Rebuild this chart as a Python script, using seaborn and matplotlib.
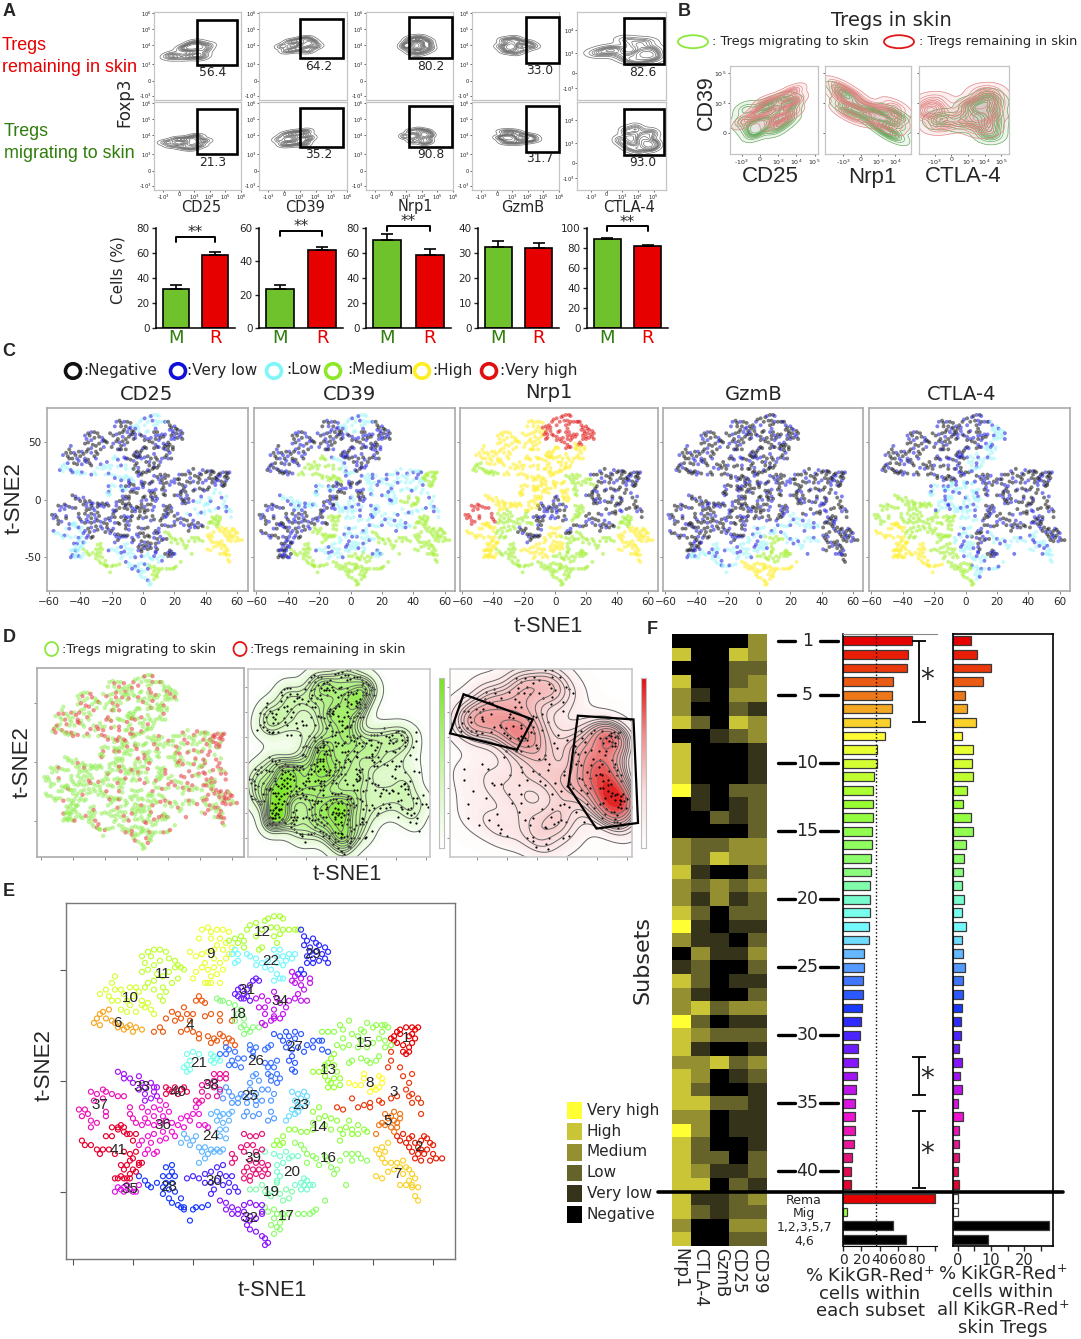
import numpy as np
import pandas as pd
import matplotlib
matplotlib.use("Agg")
import matplotlib.pyplot as plt
from matplotlib.colors import LinearSegmentedColormap, ListedColormap
from matplotlib.patches import Ellipse, Polygon, Rectangle
import seaborn as sns

# ------------------------------------------------------
# t-SNE subsets
# ------------------------------------------------------
c01 = [(47,20),(48,22),(49,23),(51,24),(53,24),(54,23),(55,24),(46,19),(47,18),(48,17),(50,16),(52,15),(53,17),(54,19),(52,20),(50,13),(51,12),(52,13),(49,21),(53,21)]
c02 = [(48,-25),(49,-27),(50,-24),(51,-28),(52,-26),(53,-25),(54,-28),(55,-30),(56,-27),(57,-25),(58,-26),(59,-28),(60,-29),(61,-35),(63,-35),(59,-36),(56,-36),(57,-33),(55,-33),(54,-35),(53,-32),(56,-31),(52,-30),(58,-31),(60,-33)]
c03 = [(46,13),(46,9),(45,6),(49,6),(50,2),(52,-1),(53,3),(51,-4),(53,-6),(55,-8),(56,-10),(56,-15),(53,-10),(52,-7),(33,-8),(35,-12),(37,-11),(39,-10),(42,-9),(46,-8),(48,-7),(43,-10),(39,-12),(28,-12),(30,-13)]
c04 = [(-33,22),(-31,24),(-30,22),(-29,28),(-27,31),(-25,30),(-26,27),(-24,28),(-23,33),(-18,38),(-17,36),(-19,36),(-16,35),(-22,30),(-21,27),(-20,30),(-22,23),(-24,22),(-20,22),(-18,21),(-18,19),(-15,20),(-13,19),(-12,18),(-14,17),(-11,21),(-10,20),(-8,19),(-9,17),(-7,18),(-6,16),(-16,29),(-14,30),(-11,30),(-11,27),(-7,27)]
c05 = [(43,-19),(44,-20),(45,-17),(44,-15),(46,-16),(47,-18),(48,-21),(47,-23),(46,-21),(49,-17),(49,-15),(47,-14),(48,-19),(42,-20),(41,-24)]
c06 = [(-53,26),(-52,28),(-51,30),(-50,31),(-48,32),(-47,27),(-49,28),(-51,25),(-46,26),(-44,25),(-42,24),(-41,25),(-39,24),(-37,23),(-43,23),(-40,22),(-45,24)]
c07 = [(41,-31),(42,-33),(43,-30),(44,-32),(43,-35),(45,-28),(41,-43),(43,-44),(44,-37),(46,-37),(48,-37),(49,-39),(47,-40),(45,-41),(50,-36),(51,-39),(52,-40),(53,-42),(54,-44),(52,-45),(50,-42),(51,-47),(53,-48),(55,-48),(49,-47),(54,-52),(55,-54),(53,-47)]
c08 = [(32,-1),(34,-2),(36,-2),(37,1),(37,3),(39,-5),(41,-4),(42,-3),(43,-1),(43,1),(42,2),(40,-3)]
c09 = [(-17,68),(-15,69),(-14,67),(-12,68),(-10,68),(-8,67),(-18,64),(-14,64),(-11,64),(-9,62),(-7,60),(-12,61),(-10,59),(-13,59),(-15,58),(-17,57),(-19,56),(-21,58),(-13,55),(-16,53),(-17,51),(-15,50),(-13,51),(-11,53),(-12,48),(-14,47),(-16,44),(-15,44),(-14,44),(-11,44),(-19,49),(-20,46),(-9,55),(-8,57),(-10,50)]
c10 = [(-46,47),(-47,44),(-49,41),(-51,39),(-48,38),(-46,41),(-44,41),(-43,39),(-41,42),(-39,42),(-38,40),(-40,38),(-42,36),(-45,36),(-47,36),(-41,34),(-44,32),(-42,31),(-39,31),(-37,34),(-35,35),(-36,33),(-34,32),(-33,30),(-37,36)]
c11 = [(-37,56),(-35,58),(-34,56),(-33,59),(-31,59),(-29,58),(-36,53),(-37,49),(-35,50),(-33,52),(-31,54),(-28,55),(-26,54),(-25,52),(-24,51),(-26,51),(-28,49),(-30,47),(-33,45),(-35,44),(-36,42),(-33,41),(-30,42),(-31,38),(-30,36),(-29,40),(-27,44),(-25,46),(-23,50),(-32,48)]
c12 = [(-8,63),(-6,64),(-4,65),(-3,63),(-5,62),(-3,60),(-2,68),(-1,70),(1,71),(1,65),(3,68),(4,72),(5,73),(7,74),(9,74),(10,73),(6,69),(8,69),(10,68),(12,68),(14,68),(15,68),(7,65),(9,66),(8,62),(3,60),(2,59)]
c13 = [(20,4),(22,4),(24,5),(25,8),(26,10),(27,12),(27,7),(24,2),(25,0),(27,1),(29,1),(28,4),(26,-1),(25,-3),(27,-3),(29,-2),(24,7)]
c14 = [(8,-27),(7,-29),(9,-29),(10,-25),(12,-22),(14,-22),(16,-23),(18,-23),(20,-22),(20,-19),(20,-14),(22,-12),(22,-17),(24,-16),(26,-17),(24,-20),(28,-18),(26,-22),(29,-22),(30,-24),(29,-27),(32,-18),(31,-21),(33,-22),(35,-20),(37,-22),(38,-23),(33,-24),(35,-24),(10,-28)]
c15 = [(23,22),(25,22),(27,22),(29,25),(30,23),(32,27),(30,19),(28,16),(30,15),(32,16),(33,21),(35,20),(36,23),(36,18),(35,15),(38,26),(40,24),(41,25),(43,25),(44,25),(45,24),(38,15),(36,10),(38,9),(39,8),(41,9),(42,11),(40,17),(42,19),(44,18),(46,16),(44,15),(43,22),(33,9),(32,8),(37,22)]
c16 = [(14,-28),(16,-29),(17,-31),(18,-33),(20,-34),(18,-37),(21,-35),(24,-34),(22,-38),(26,-39),(28,-40),(27,-42),(31,-47),(29,-36),(31,-33),(33,-33),(35,-33),(33,-36),(36,-35),(38,-36),(25,-36)]
c17 = [(4,-57),(5,-59),(7,-58),(8,-60),(10,-60),(7,-62),(6,-65),(8,-66),(9,-67),(7,-69),(10,-62),(12,-60),(15,-60),(17,-60),(19,-60),(20,-59),(21,-58),(24,-54),(9,-64)]
c18 = [(-12,37),(-10,36),(-8,35),(-6,34),(-4,32),(-5,30),(-3,28),(-6,27),(-3,25),(-2,23),(0,24),(-1,22),(-3,21),(-4,24),(2,24),(-11,36)]
c19 = [(-1,-49),(1,-49),(3,-47),(5,-51),(7,-49),(9,-51),(11,-49),(13,-50),(12,-53),(10,-54),(6,-52),(4,-50),(8,-46)]
c20 = [(4,-32),(7,-33),(9,-34),(10,-37),(8,-38),(8,-41),(9,-43),(11,-32),(12,-35),(13,-34),(15,-34),(8,-45),(17,-44),(16,-46),(17,-47),(18,-45),(19,-47),(18,-49),(16,-49),(20,-47),(14,-47)]
c21 = [(-22,12),(-20,13),(-18,12),(-21,9),(-22,7),(-23,6),(-22,4),(-21,5),(-14,12),(-13,11),(-14,9),(-12,10),(-13,8),(-11,9)]
c22 = [(-6,59),(-5,57),(-7,57),(-5,54),(-6,53),(-2,57),(-1,56),(1,55),(1,52),(3,53),(4,51),(5,54),(7,59),(8,56),(9,59),(10,56),(11,54),(12,57),(13,55),(14,57),(8,53),(10,52),(6,50),(8,48),(9,46),(10,46),(7,45)]
c23 = [(13,-5),(15,-6),(17,-5),(18,-7),(16,-8),(14,-9),(15,-11),(18,-10),(13,-13),(15,-14),(12,-16),(16,-12),(14,-15),(11,-18)]
c24 = [(-14,-15),(-12,-14),(-11,-16),(-10,-15),(-12,-18),(-10,-19),(-11,-22),(-9,-22),(-11,-25),(-9,-26),(-8,-18),(-8,-15),(-7,-14),(-22,-26),(-24,-28),(-21,-29),(-20,-27),(-19,-25),(-23,-24),(-18,-30),(-16,-30),(-17,-32),(-14,-31),(-13,-32),(-12,-31),(-11,-32),(-10,-31),(-18,-37),(-16,-35),(-15,-33)]
c25 = [(-11,-5),(-9,-3),(-8,-5),(-7,-7),(-10,-8),(-7,-10),(-5,-8),(-4,-6),(-3,-7),(-5,-10),(-2,-10),(-1,-7),(1,-6),(1,-9),(-1,-4),(-1,-1),(0,2),(1,3),(2,0),(3,-4),(5,-4),(7,-6),(3,-9),(1,-11),(6,-9),(-2,-14),(2,-15),(0,-16),(6,-14),(7,-17),(5,-18),(-3,-16)]
c26 = [(-11,12),(-9,12),(-8,14),(-9,15),(-6,13),(-7,9),(-6,7),(-5,10),(-4,6),(-1,14),(0,13),(-1,16),(1,15),(0,11),(4,14),(5,15),(6,16),(4,8),(5,6),(6,8),(7,6),(8,9),(5,3),(6,2),(8,3),(9,1),(6,0),(8,-1),(-8,7),(-3,10)]
c27 = [(7,21),(9,20),(11,22),(12,20),(14,22),(16,21),(10,18),(12,17),(14,19),(11,15),(13,14),(15,15),(17,13),(13,11),(12,9),(14,8),(13,5),(14,4),(20,18),(22,18),(23,18),(20,15),(23,14),(25,13),(18,16)]
c28 = [(-38,-43),(-36,-45),(-35,-47),(-34,-48),(-32,-46),(-30,-48),(-29,-46),(-30,-51),(-28,-49),(-26,-50),(-29,-39),(-27,-38),(-30,-43),(-28,-43),(-27,-41),(-26,-43),(-27,-46),(-28,-53),(-27,-55),(-25,-56),(-24,-57),(-23,-58),(-23,-57),(-20,-58),(-19,-57),(-17,-57),(-15,-56),(-21,-63),(-24,-53)]
c29 = [(17,65),(17,61),(18,63),(20,64),(21,62),(19,60),(22,61),(24,60),(25,58),(23,57),(21,58),(19,58),(18,56),(20,55),(22,54),(24,55),(25,53),(18,53),(16,50),(15,48),(17,48),(20,53),(16,68)]
c30 = [(-22,-44),(-20,-43),(-18,-44),(-16,-42),(-14,-41),(-12,-39),(-10,-38),(-11,-42),(-12,-45),(-10,-47),(-8,-46),(-7,-43),(-14,-46),(-16,-46),(-9,-43),(-6,-48),(-5,-50),(-8,-50),(-14,-51),(-13,-49)]
c31 = [(-5,41),(-4,42),(-2,41),(-3,39),(-6,39),(-4,37),(-3,37),(-2,38),(-1,43),(0,45),(1,46),(2,45),(-1,36),(-5,38)]
c32 = [(-11,-54),(-9,-55),(-9,-58),(-7,-57),(-5,-58),(-3,-56),(-3,-59),(-1,-55),(1,-56),(3,-56),(3,-59),(-5,-60),(-3,-62),(-1,-61),(-1,-63),(1,-62),(3,-60),(-2,-65),(-1,-67),(1,-68),(3,-70),(4,-71),(5,-73),(4,-74),(-7,-60)]
c33 = [(-45,4),(-43,3),(-43,1),(-41,1),(-40,-1),(-38,2),(-37,-1),(-36,-3),(-38,-4),(-36,-6),(-34,-1),(-33,-3),(-33,-5),(-32,-7),(-34,-8),(-32,-3),(-36,-9)]
c34 = [(13,49),(14,47),(13,45),(14,44),(16,46),(16,43),(17,41),(15,39),(14,37),(16,36),(18,36),(19,46),(1,37),(3,38),(5,36),(7,40),(8,37),(9,35),(11,33),(10,30),(7,32),(4,33),(2,33),(4,30),(7,29),(9,28),(6,27),(3,26),(4,25),(7,28),(12,36),(19,44)]
c35 = [(-45,-48),(-44,-49),(-43,-50),(-42,-47),(-41,-49),(-40,-50),(-38,-47),(-39,-50),(-46,-50),(-43,-48)]
c36 = [(-37,-12),(-35,-14),(-33,-12),(-31,-13),(-29,-11),(-31,-9),(-28,-14),(-30,-16),(-33,-16),(-36,-17),(-37,-20),(-35,-19),(-33,-20),(-31,-19),(-29,-18),(-27,-19),(-25,-20),(-27,-23),(-30,-23),(-33,-24),(-35,-25),(-37,-27),(-34,-28),(-31,-27),(-29,-26),(-35,-31),(-33,-33),(-36,-33),(-32,-32),(-24,-17),(-22,-16),(-20,-15),(-18,-15),(-21,-18),(-23,-21),(-26,-25),(-19,-12),(-18,-10),(-16,-20),(-18,-20),(-15,-21),(-38,-29)]
c37 = [(-58,-13),(-56,-13),(-55,-15),(-57,-16),(-54,-5),(-52,-6),(-50,-4),(-49,-5),(-47,-6),(-45,-7),(-43,-7),(-53,-9),(-54,-18),(-52,-19),(-54,-21),(-49,-14),(-49,-16),(-41,-15),(-40,-17),(-39,-19),(-41,-12),(-50,-8)]
c38 = [(-13,3),(-11,3),(-9,3),(-11,1),(-13,0),(-15,-1),(-17,-2),(-13,-3),(-11,-4),(-17,-5),(-15,-7),(-12,-7),(-19,-9),(-17,-9),(-9,1)]
c39 = [(-4,-30),(-2,-29),(0,-29),(-3,-32),(1,-32),(3,-31),(-7,-33),(-6,-35),(-1,-36),(1,-37),(3,-37),(5,-38),(-2,-39),(0,-40),(2,-40),(4,-40),(-3,-41),(-1,-43),(1,-42),(3,-43),(5,-42),(-3,-44),(-1,-45),(-3,-24),(-1,-25),(1,-25),(3,-24),(-7,-37)]
c40 = [(-29,-6),(-27,-5),(-26,-3),(-25,-6),(-24,-4),(-23,-3),(-22,-5),(-28,-4),(-29,-3)]
c41 = [(-57,-27),(-56,-29),(-54,-29),(-52,-31),(-50,-31),(-51,-33),(-48,-31),(-49,-25),(-47,-25),(-45,-22),(-44,-20),(-43,-23),(-47,-21),(-45,-21),(-43,-21),(-42,-24),(-41,-24),(-39,-24),(-40,-27),(-43,-32),(-41,-33),(-39,-32),(-46,-33),(-40,-35),(-42,-38),(-40,-40),(-38,-38),(-41,-36),(-44,-38),(-43,-40),(-41,-42),(-39,-41),(-38,-37),(-37,-37),(-46,-44),(-45,-44),(-43,-44),(-44,-43),(-42,-44),(-41,-44)]
clusters = [c01,c02,c03,c04,c05,c06,c07,c08,c09,c10,c11,c12,c13,c14,c15,c16,c17,c18,c19,c20,c21,c22,c23,c24,c25,c26,c27,c28,c29,c30,c31,c32,c33,c34,c35,c36,c37,c38,c39,c40,c41]

label_xy = [(51,19),(55,-30),(47,-5),(-21,25),(45,-18),(-45,26),(48,-42),(39,-1),(-14,57),(-41,37),(-30,48),(3,67),(25,5),(22,-21),(37,17),(25,-35),(11,-61),(-5,30),(6,-50),(13,-41),(-18,8),(6,54),(16,-11),(-14,-25),(-1,-7),(1,9),(14,15),(-28,-48),(20,57),(-13,-45),(-2,41),(-1,-62),(-37,-3),(9,36),(-41,-49),(-30,-20),(-51,-11),(-14,-2),(0,-35),(-25,-5),(-45,-31)]

# ------------------------------------------------------
# Panel F: expression level per subset (0 negative ... 5 very high)
# ------------------------------------------------------
row_names = [str(i) for i in range(1, 42)] + ["Rema", "Mig", "1,2,3,5,7", "4,6"]
nrp1  = [0,4,0,4,3,3,4,0,4,4,4,5,0,0,0,3,3,4,3,3,4,5,3,0,1,4,3,3,5,4,4,3,4,4,4,3,5,4,4,4,4,4,4,3,4]
ctla4 = [0,0,0,0,1,0,2,0,0,0,0,1,1,0,0,2,2,1,2,1,2,1,1,3,2,2,1,4,2,3,1,3,3,2,4,3,3,2,2,3,4,1,2,0,0]
gzmb  = [0,0,0,0,0,0,0,1,0,0,0,0,0,2,0,2,4,0,3,3,0,0,1,1,0,0,0,2,0,2,0,4,0,0,2,0,0,0,2,1,0,1,1,0,0]
cd25  = [0,4,2,2,3,2,4,2,0,0,0,2,1,1,0,3,3,0,2,1,2,1,0,1,0,1,0,3,1,2,0,2,1,0,2,1,1,0,0,1,2,2,2,3,2]
cd39  = [3,3,2,3,3,1,3,3,1,1,1,2,2,2,2,3,3,2,3,2,2,1,2,3,2,1,2,3,1,2,1,3,2,1,1,1,1,1,2,2,1,3,2,3,2]
heat_columns = ["Nrp1", "CTLA-4", "GzmB", "CD25", "CD39"]
level_names = ["Very high", "High", "Medium", "Low", "Very low", "Negative"]

pct_subset = [75,71,69.5,54.5,53,52.7,50.5,45.5,37,36.7,34,32.7,32.4,32.4,31.6,31.3,30.5,30,29.8,29.5,29,28.4,28,23.3,23,21.8,21.5,21,19.3,18.2,16.4,16.4,15.6,14.5,13.5,13.5,13,11.6,9.5,9,8.7,100,4.7,54.5,68]
pct_all = [3.9,5.8,10,7.6,2.1,2.9,5.4,1.4,4.7,4.2,4.5,2.9,1.5,4,4.7,2.5,2,1.5,1.2,1.8,1.2,2.5,1.2,1.7,2.2,1.5,1.5,1.4,1,1,0.4,1.2,0.6,1.3,0.1,1.6,0.5,0.3,0.3,0,0.4,0,0,27.5,9]
dotted_at = 36

# ------------------------------------------------------
# Panel A: bars and flow plot clouds
# ------------------------------------------------------
markers_a = ["CD25", "CD39", "Nrp1", "GzmB", "CTLA-4"]
bar_m = [31.5, 23.5, 70.5, 32.5, 89.5]
bar_r = [58, 46.5, 58.5, 32, 82]
err_m = [2.5, 2.5, 5, 2.2, 1]
err_r = [3, 2.2, 5, 2, 0.5]
bar_ymax = [80, 60, 80, 40, 100]
bar_ticks = [[0,20,40,60,80], [0,20,40,60], [0,20,40,60,80], [0,10,20,30,40], [0,20,40,60,80,100]]
sig_y = [73, 58.5, 82, None, 102]

gate_top = ["56.4", "64.2", "80.2", "33.0", "82.6"]
gate_bottom = ["21.3", "35.2", "90.8", "31.7", "93.0"]

flow_top = [
    [(-0.6,1.7),(-0.2,1.6),(0.3,2.2),(0.5,1.6),(0.9,2.5),(1.1,1.7),(1.3,2.4),(1.6,2.0),(1.8,2.3),(1.5,1.6),(1.0,2.1),(0.7,2.2)],
    [(-0.1,2.3),(0.2,2.0),(0.4,2.6),(0.8,2.1),(1.0,2.7),(1.2,2.3),(1.4,2.8),(1.5,2.0),(1.7,2.5),(2.0,2.3),(1.3,2.4),(1.6,2.6)],
    [(0.9,2.3),(1.2,2.7),(1.3,2.0),(1.6,2.8),(1.7,1.9),(2.0,2.8),(2.1,2.0),(2.4,2.6),(2.5,2.2),(1.1,2.4),(2.2,2.4)],
    [(0.3,2.3),(0.5,2.7),(0.6,2.0),(0.9,2.5),(1.0,2.3),(1.1,2.8),(1.2,1.9),(1.5,2.6),(1.7,2.1),(2.0,2.5),(2.3,2.3),(0.9,2.2)],
    [(-0.6,1.3),(0,1.5),(0.6,1.6),(1,1.2),(1.3,2.2),(1.5,0.9),(1.9,1.8),(2.1,0.8),(2.3,1.3),(2.5,2.1),(2.8,1.0),(2.9,1.6),(2.6,1.3),(2.7,1.2)],
]
flow_bottom = [
    [(-0.8,1.9),(-0.4,1.7),(-0.1,2.1),(0.3,1.6),(0.5,2.1),(0.8,1.5),(0.9,1.9),(1.1,2.3),(1.3,1.7),(1.6,2.0),(1.0,2.1),(0.7,1.8)],
    [(-0.3,2.1),(0,1.8),(0.1,2.4),(0.4,1.8),(0.6,2.5),(0.9,1.9),(1.0,2.5),(1.2,2.1),(1.4,2.6),(1.6,2.2),(1.3,1.8),(0.8,2.2)],
    [(0.9,2.3),(1.3,2.6),(1.4,2.0),(1.8,2.7),(1.9,2.2),(2.1,2.4),(2.2,2.3),(2.3,2.6),(2.4,2.0),(2.1,1.9),(2.5,2.4),(2.0,2.5)],
    [(0.3,2.2),(0.5,2.6),(0.6,1.9),(0.8,2.3),(0.9,2.1),(1.1,2.6),(1.3,1.9),(1.6,2.4),(1.9,2.0),(2.2,2.3),(2.3,2.1),(0.7,2.2)],
    [(0.9,1.5),(1.3,2.1),(1.4,1.1),(1.9,2.3),(2,0.9),(2.4,1.8),(2.6,1.1),(2.9,2.0),(3,1.3),(2.6,1.3),(2.7,1.2),(2.2,1.5)],
]

# ------------------------------------------------------
# Panel B clouds
# ------------------------------------------------------
b_green = [
    [(-1,0.4),(-0.6,0.2),(-0.2,0.1),(0,0.4),(0.3,0.3),(0.8,0.1),(1.2,0.3),(1.5,0.8),(1.7,1),(1.2,1.1),(0.5,0.9),(0.1,0.8),(0.9,0.6),(-0.3,-0.05),(1.6,0.5),(-0.8,0.8)],
    [(-1.1,1.4),(-0.8,1.2),(-0.6,0.9),(-0.9,0.8),(0.8,0.7),(1,0.5),(1.4,0.5),(1.9,0.6),(2,0.3),(1.9,0),(1.7,-0.1),(1.3,0.1),(0.8,0.3),(0.5,0.6),(-0.2,0.7),(2.1,0.6)],
    [(-0.9,0.4),(-0.4,0.5),(0.5,0.3),(1,0.5),(1.5,0.8),(1.9,1),(2,0.7),(2.4,0.6),(2.4,0.2),(2.1,0),(2.5,-0.1),(1.7,0.3),(2.6,1),(2.2,1.2),(1,0.9),(2.5,0.4)],
]
b_red = [
    [(-0.9,0.35),(-0.3,0.6),(0,0.7),(0.4,0.6),(0.7,0.3),(0.9,0.5),(1.2,0.9),(1.6,1),(1.9,1.4),(2,1.1),(1.5,1.3),(0.8,1.1),(0.2,1.0),(1.3,0.5),(1.8,0.7),(0.6,0.9)],
    [(-1.3,1.6),(-1.1,1.2),(-0.8,1.3),(-0.6,1),(-0.9,0.7),(-0.3,0.5),(0.1,0.9),(0.7,0.8),(1,0.5),(1.4,0.7),(1.8,0.7),(1.9,0.4),(1.6,0.2),(0.7,0.4),(-0.5,1.3),(2,0.9)],
    [(-1.6,0.8),(-1.3,0.6),(-1.1,1.1),(-0.9,0.8),(-0.7,0.2),(-0.2,0.4),(0.8,0.6),(1.2,0.9),(1.6,1),(2,1.4),(2.3,1.2),(2.2,0.6),(1.8,0.5),(1.4,0.3),(2.4,0.9),(2,0.1)],
]
b_names = ["CD25", "Nrp1", "CTLA-4"]

# gates of the red density panel, in t-SNE units
gate_poly_1 = [(-49,54),(-3,34),(-13.5,10),(-58,23)]
gate_poly_2 = [(27,37),(64,34),(67,-48),(39.4,-52.5),(20.6,-19)]

# ------------------------------------------------------
# figure set up
# ------------------------------------------------------
sns.set_style("white")
plt.rcParams["font.family"] = ["DejaVu Sans"]
ARIAL = "Liberation Sans"
W, H = 1081, 1339
fig = plt.figure(figsize=(W / 100, H / 100), dpi=100)

RED = "#e60000"
GREEN = "#70c22d"
DARK_GREEN = "#2f7d0a"
LEVEL_DOTS = ["#111111", "#1a1ae0", "#9cf6fa", "#9ef02a", "#ffee22", "#e01010"]
HEAT = ["#000000", "#35331a", "#65622a", "#948f30", "#c9c536", "#ffff33"]

rainbow = LinearSegmentedColormap.from_list("subsets", [
    (0.00, "#e60000"), (0.10, "#ee7a1a"), (0.175, "#ffff33"), (0.30, "#96ff32"),
    (0.42, "#8cfc78"), (0.47, "#78fcc8"), (0.52, "#78ffff"), (0.58, "#64b4ff"),
    (0.68, "#1432ff"), (0.78, "#8c14ff"), (0.87, "#f014dc"), (0.95, "#e6147d"), (1.00, "#e60030"),
])
subset_colors = [rainbow(i / 40) for i in range(41)]


def add_ax(x0, y0, x1, y1):
    return fig.add_axes([x0 / W, 1 - y1 / H, (x1 - x0) / W, (y1 - y0) / H])


def grey_box(ax, color="#aaaaaa", lw=1.2):
    for s in ax.spines.values():
        s.set_visible(True)
        s.set_color(color)
        s.set_linewidth(lw)


def cell_level(base, idx):
    # cells of a subset are spread around its heatmap level
    if base == 0:
        return 1 if idx % 3 == 0 else 0
    if base == 1:
        return 0 if idx % 2 == 0 else 1
    if base == 2:
        return 1 if idx % 4 == 0 else 2
    return base


rows = []
for k, pts in enumerate(clusters):
    share = pct_subset[k] / 100
    for i, (x, y) in enumerate(pts):
        rows.append({"x": x, "y": y, "subset": k + 1, "idx": i,
                     "remaining": int((i + 1) * share) > int(i * share)})
df = pd.DataFrame(rows)

# ------------------------------------------------------
# A: flow plots
# ------------------------------------------------------
flow_cols = [(154, 241), (259, 347), (366, 453), (472, 559), (577, 666)]
flow_ticks_x = [-1, 0, 1, 2, 3, 4]
flow_names_x = ["-$10^{3}$", "0", "$10^{3}$", "$10^{4}$", "$10^{5}$", "$10^{6}$"]
flow_ticks_y = [-1, 0, 1.1, 2.4, 3.45, 4.5]

for c, (x0, x1) in enumerate(flow_cols):
    for r, cloud, (y0, y1) in [(0, flow_top[c], (12, 100)), (1, flow_bottom[c], (102, 190))]:
        ax = add_ax(x0, y0, x1, y1)
        px, py = zip(*cloud)
        sns.kdeplot(x=list(px), y=list(py), levels=11, thresh=0.05, bw_adjust=0.75,
                    color="#6e6e6e", linewidths=0.5, ax=ax)
        if c == 4:
            ax.set_xlim(-1.9, 3.8)
            ax.set_ylim(-1.8, 4.07)
            xt, xn = flow_ticks_x[:5], flow_names_x[:5]
            ax.set_yticks([-1, 0, 1.33, 2.87], ["-$10^{3}$", "0", "$10^{3}$", "$10^{4}$"])
        else:
            ax.set_xlim(-1.6, 4)
            ax.set_ylim(-1.3, 4.6)
            xt, xn = flow_ticks_x, flow_names_x
            ax.set_yticks(flow_ticks_y, ["-$10^{3}$", "0", "$10^{3}$", "$10^{4}$", "$10^{5}$", "$10^{6}$"])
        if r == 1:
            ax.set_xticks(xt, xn)
        else:
            ax.set_xticks([])
        ax.set_xlabel("")
        ax.set_ylabel("")
        ax.tick_params(labelsize=3.8, length=1.5, width=0.5, pad=0.3, left=True, bottom=True)
        grey_box(ax, "#c4c4c4", 0.9)

# A: bars
bar_boxes = [(156, 235), (259, 343), (366, 451), (478, 559), (587, 668)]
for c, (x0, x1) in enumerate(bar_boxes):
    ax = add_ax(x0, 228, x1, 328)
    sns.barplot(x=["M", "R"], y=[bar_m[c], bar_r[c]], hue=["M", "R"], palette=[GREEN, RED],
                saturation=1, width=0.66, edgecolor="black", linewidth=1.2, legend=False, ax=ax)
    ax.errorbar([0, 1], [bar_m[c], bar_r[c]], yerr=[[0, 0], [err_m[c], err_r[c]]],
                fmt="none", ecolor="black", elinewidth=1.2, capsize=4, capthick=1.2)
    ax.set_ylim(0, bar_ymax[c])
    ax.set_xlim(-0.5, 1.5)
    ax.set_yticks(bar_ticks[c])
    ax.tick_params(axis="y", labelsize=7.5, length=3, width=1, pad=1.5, left=True)
    ax.tick_params(axis="x", labelsize=13, length=0, pad=1)
    ax.get_xticklabels()[0].set_color(DARK_GREEN)
    ax.get_xticklabels()[1].set_color(RED)
    ax.set_xlabel("")
    ax.set_ylabel("")
    sns.despine(ax=ax)
    for s in ["left", "bottom"]:
        ax.spines[s].set_color("black")
        ax.spines[s].set_linewidth(1.1)
    if sig_y[c] is not None:
        top, tip = sig_y[c], bar_ymax[c] * 0.05
        ax.plot([0, 0, 1, 1], [top - tip, top, top, top - tip], color="black", lw=1.4, clip_on=False)
        ax.text(0.5, top - bar_ymax[c] * 0.035, "**", ha="center", va="bottom", fontsize=11, clip_on=False)

# ------------------------------------------------------
# B: overlaid flow plots
# ------------------------------------------------------
b_boxes = [(730, 818), (825, 911), (919, 1009)]
b_xlims = [(-1.64, 3.18), (-2.05, 2.9), (-1.94, 3.46)]
b_xticks = [[-1, 0, 1, 2, 3], [-1, 0, 1, 2], [-1, 0, 1, 2, 3]]
b_xnames = ["-$10^{3}$", "0", "$10^{3}$", "$10^{4}$", "$10^{5}$"]
for c, (x0, x1) in enumerate(b_boxes):
    ax = add_ax(x0, 66, x1, 154)
    for cloud, col, line in [(b_green[c], "#9ad08f", "#5fa655"), (b_red[c], "#f3a9a9", "#e08080")]:
        px, py = zip(*cloud)
        sns.kdeplot(x=list(px), y=list(py), levels=6, thresh=0.04, bw_adjust=0.72, fill=True,
                    color=col, alpha=0.16, ax=ax)
        sns.kdeplot(x=list(px), y=list(py), levels=11, thresh=0.04, bw_adjust=0.72,
                    color=line, linewidths=0.5, alpha=0.9, ax=ax)
    ax.set_xlim(*b_xlims[c])
    ax.set_ylim(-0.71, 2.23)
    ax.set_xticks(b_xticks[c], b_xnames[:len(b_xticks[c])])
    if c == 0:
        ax.set_yticks([0, 1, 2], ["0", "$10^{3}$", "$10^{5}$"])
    else:
        ax.set_yticks([0, 1, 2], ["", "", ""])
    ax.set_xlabel("")
    ax.set_ylabel("")
    ax.tick_params(labelsize=4.5, length=1.5, width=0.5, pad=1, left=True, bottom=True)
    grey_box(ax, "#c4c4c4", 0.9)

# ------------------------------------------------------
# C: t-SNE coloured by level
# ------------------------------------------------------
c_boxes = [(46.5, 247.5), (254, 455), (460, 658), (663, 863), (869, 1070)]
c_titles = ["CD25", "CD39", "Nrp1", "GzmB", "CTLA-4"]
c_levels = [cd25, cd39, nrp1, gzmb, ctla4]
for c, (x0, x1) in enumerate(c_boxes):
    ax = add_ax(x0, 408, x1, 591)
    tmp = df.assign(level=[cell_level(c_levels[c][s - 1], i) for s, i in zip(df["subset"], df["idx"])])
    sns.scatterplot(data=tmp, x="x", y="y", hue="level", palette=dict(enumerate(LEVEL_DOTS)),
                    s=8, alpha=0.55, linewidth=0, legend=False, ax=ax)
    ax.set_xlim(-61.5, 66.5)
    ax.set_ylim(-79.3, 80)
    ax.set_xticks(range(-60, 61, 20))
    ax.set_yticks([-50, 0, 50], ["-50", "0", "50"] if c == 0 else ["", "", ""])
    ax.set_xlabel("")
    ax.set_ylabel("")
    ax.tick_params(labelsize=7.5, length=2, width=0.6, pad=2, left=True, bottom=True, color="#777777")
    grey_box(ax)

# ------------------------------------------------------
# D: origin and density
# ------------------------------------------------------
ax = add_ax(37, 668, 244, 857)
sns.scatterplot(data=df, x="x", y="y", hue="remaining", palette={False: "#8fee50", True: "#e23a3a"},
                s=10, alpha=0.55, linewidth=0, legend=False, ax=ax)
ax.set_xlim(-62.6, 67.5)
ax.set_ylim(-81, 80)
ax.set_xticks(range(-60, 61, 20), [])
ax.set_yticks([-50, 0, 50], [])
ax.set_xlabel("")
ax.set_ylabel("")
ax.tick_params(length=2, width=0.6, left=True, bottom=True, color="#777777")
grey_box(ax)

green_map = LinearSegmentedColormap.from_list("g", ["#ffffff", "#dcf8c8", "#aef07e", "#78e420"])
red_map = LinearSegmentedColormap.from_list("r", ["#ffffff", "#fadcdc", "#ef8f8f", "#df1414"])
d_panels = [((248, 430), df[~df["remaining"]], green_map, (-59, 62.5), 0.62, 0.01),
            ((450, 632), df[df["remaining"]], red_map, (-58, 63), 0.72, 0.002)]
for (x0, x1), part, cmap, xlim, bw, th in d_panels:
    ax = add_ax(x0, 669, x1, 857)
    sns.kdeplot(data=part, x="x", y="y", fill=True, cmap=cmap, levels=40, thresh=th,
                bw_adjust=bw, cut=6, gridsize=150, ax=ax)
    sns.kdeplot(data=part, x="x", y="y", color="#666666", levels=11, thresh=0.03,
                bw_adjust=bw, cut=6, gridsize=150, linewidths=0.7, ax=ax)
    sns.scatterplot(data=part, x="x", y="y", color="black", s=2.5, linewidth=0, legend=False, ax=ax)
    ax.set_xlim(*xlim)
    ax.set_ylim(-75, 74)
    ax.set_xticks(range(-40, 61, 20), [])
    ax.set_yticks(range(-60, 61, 20), [])
    ax.set_xlabel("")
    ax.set_ylabel("")
    ax.tick_params(length=2, width=0.6, left=True, bottom=True, color="#777777")
    grey_box(ax, "#c8c8c8")
    if cmap is red_map:
        for poly in (gate_poly_1, gate_poly_2):
            ax.add_patch(Polygon(poly, closed=True, fill=False, ec="black", lw=1.6, clip_on=False, zorder=6))

for x0, x1, cmap in [(439, 444, green_map), (641, 646, red_map)]:
    ax = add_ax(x0, 678, x1, 848)
    ax.imshow(np.linspace(1, 0, 100)[:, None], cmap=cmap, aspect="auto")
    ax.set_xticks([])
    ax.set_yticks([])
    grey_box(ax, "#bdbdbd", 0.8)

# ------------------------------------------------------
# E: subsets
# ------------------------------------------------------
ax = add_ax(66, 903, 455, 1259)
sns.scatterplot(data=df, x="x", y="y", hue="subset", palette=dict(zip(range(1, 42), subset_colors)),
                s=13, legend=False, ax=ax)
dots = ax.collections[0]
dots.set_edgecolors(dots.get_facecolors())
dots.set_facecolors("none")
dots.set_linewidths(0.85)
for k, (lx, ly) in enumerate(label_xy):
    ax.text(lx, ly, str(k + 1), ha="center", va="center", fontsize=11, family=ARIAL)
ax.set_xlim(-62.3, 67.3)
ax.set_ylim(-80.3, 80)
ax.set_xticks(range(-60, 61, 20), [])
ax.set_yticks([-50, 0, 50], [])
ax.set_xlabel("")
ax.set_ylabel("")
ax.tick_params(length=4, width=0.8, left=True, bottom=True, color="#555555")
grey_box(ax, "#777777", 1)

# ------------------------------------------------------
# F: heatmap and two bar columns
# ------------------------------------------------------
heat_df = pd.DataFrame(dict(zip(heat_columns, [nrp1, ctla4, gzmb, cd25, cd39])), index=row_names)
ax = add_ax(672, 634, 767, 1246)
sns.heatmap(heat_df, cmap=ListedColormap(HEAT), vmin=-0.5, vmax=5.5, cbar=False,
            xticklabels=False, yticklabels=False, ax=ax)
ax.set_xlabel("")
ax.set_ylabel("")

ax = add_ax(565, 1100, 584, 1225)
legend_levels = pd.DataFrame({"level": [5, 4, 3, 2, 1, 0]}, index=level_names)
sns.heatmap(legend_levels, cmap=ListedColormap(HEAT), vmin=-0.5, vmax=5.5, cbar=False,
            xticklabels=False, yticklabels=False, linewidths=1.5, linecolor="white", ax=ax)
ax.set_xlabel("")
ax.set_ylabel("")

ax = add_ax(775, 634, 840, 1246)
ax.set_xlim(775, 840)
ax.set_ylim(44.5, -0.5)
ax.axis("off")
for n in [1, 5, 10, 15, 20, 25, 30, 35, 40]:
    ax.text(807.5, n - 1, str(n), ha="center", va="center", fontsize=12.5)
    ax.plot([778, 795], [n - 1, n - 1], color="black", lw=2.4)
    ax.plot([820, 837.5], [n - 1, n - 1], color="black", lw=2.4)

bar_colors = subset_colors + ["#e60000", "#9eff3c", "#000000", "#000000"]
ax = add_ax(843, 634, 937, 1246)
sns.barplot(x=pct_subset, y=row_names, hue=row_names, palette=bar_colors, saturation=1, orient="h",
            width=0.66, edgecolor="#3a3a3a", linewidth=0.9, legend=False, ax=ax)
ax.axvline(dotted_at, color="black", lw=1, ls=":", zorder=5)
ax.set_xlim(0, 102)
ax.set_ylim(44.5, -0.5)
ax.set_xticks(range(0, 101, 20), ["0", "20", "40", "60", "80", ""])
ax.set_yticks([])
ax.set_xlabel("")
ax.set_ylabel("")
ax.tick_params(axis="x", labelsize=10, length=3.5, width=1, pad=1.5, bottom=True)
sns.despine(ax=ax, right=True, top=False)
ax.spines["top"].set_color("#888888")
ax.spines["left"].set_color("black")
ax.spines["left"].set_linewidth(1.2)
ax.spines["bottom"].set_color("black")
for first, last in [(0, 6), (30.6, 33.4), (34.6, 40.2)]:
    ax.errorbar([83], [(first + last) / 2], yerr=[(last - first) / 2], fmt="none",
                ecolor="black", elinewidth=1.3, capsize=5, capthick=1.3, clip_on=False)

ax = add_ax(953, 634, 1053, 1246)
rows_y = np.arange(len(row_names))
base_x = -1.4
edge_fill = [to for to in bar_colors]
edge_fill[41] = "white"
edge_fill[42] = "white"
ax.barh(rows_y, np.array(pct_all) + 1.4, left=base_x, height=0.66, color=edge_fill,
        edgecolor="#3a3a3a", linewidth=0.9)
ax.set_xlim(base_x, 28.6)
ax.set_ylim(44.5, -0.5)
ax.set_xticks(range(0, 26, 5), ["0", "", "10", "", "20", ""])
ax.set_yticks([])
ax.tick_params(axis="x", labelsize=10.5, length=3.5, width=1, pad=1.5, bottom=True)
grey_box(ax, "black", 1.2)

# ------------------------------------------------------
# everything written in pixel position
# ------------------------------------------------------
ov = fig.add_axes([0, 0, 1, 1], zorder=20)
ov.set_xlim(0, W)
ov.set_ylim(H, 0)
ov.axis("off")


def txt(x, y, s, size=11, **kw):
    kw.setdefault("ha", "center")
    kw.setdefault("va", "center")
    ov.text(x, y, s, fontsize=size, **kw)


for x, y, s in [(9, 12, "A"), (684, 11, "B"), (9, 352, "C"), (9, 637, "D"), (9, 892, "E"), (652, 630, "F")]:
    txt(x, y, s, 13, family=ARIAL, fontweight="bold")

# A texts and gates
txt(2, 45, "Tregs", 12.9, ha="left", color=RED, family=ARIAL)
txt(2, 67, "remaining in skin", 12.9, ha="left", color=RED, family=ARIAL)
txt(4, 132, "Tregs", 12.9, ha="left", color=DARK_GREEN, family=ARIAL)
txt(4, 154, "migrating to skin", 12.9, ha="left", color=DARK_GREEN, family=ARIAL)
txt(124, 102, "Foxp3", 12, rotation=90)
txt(118, 270, "Cells (%)", 11, rotation=90)
name_xy = [(201, 207), (305, 207), (415, 206), (523, 207), (629, 207)]
for (x, y), s in zip(name_xy, markers_a):
    txt(x, y, s, 10.5)
top_gates = [(197, 20, 237, 65), (300, 19, 343, 58), (408.5, 17, 452, 58), (525.6, 17, 558.5, 63), (624, 18, 663.5, 64)]
bottom_gates = [(197, 109, 237, 154), (300, 108, 343, 147), (408.5, 106, 452, 147), (525.6, 106, 558.5, 152), (624, 109, 663.5, 155)]
top_num = [(213, 72), (319, 67), (430.6, 67), (540, 71), (643, 73)]
bottom_num = [(213, 163), (319, 154), (430.6, 154), (540, 159), (643, 163)]
for g, lab, pos in zip(top_gates + bottom_gates, gate_top + gate_bottom, top_num + bottom_num):
    ov.add_patch(Rectangle((g[0], g[1]), g[2] - g[0], g[3] - g[1], fill=False, ec="black", lw=1.9))
    txt(pos[0], pos[1], lab, 8.8)

# B texts
txt(891, 20, "Tregs in skin", 14)
ov.add_patch(Ellipse((693, 41.7), 30, 13, fill=False, ec="#8be83c", lw=1.3))
txt(712, 41.7, ": Tregs migrating to skin", 9.3, ha="left")
ov.add_patch(Ellipse((899, 41.7), 30, 13, fill=False, ec="#e01818", lw=1.3))
txt(919, 41.7, ": Tregs remaining in skin", 9.3, ha="left")
txt(706, 103, "CD39", 15.5, rotation=90, family=ARIAL)
for x, s in zip([770, 872.7, 963], b_names):
    txt(x, 177, s, 16, family=ARIAL)

# C texts
c_legend = [(73, 83, ":Negative"), (178, 187, ":Very low"), (274, 286, ":Low"),
            (333, 347, ":Medium"), (422, 432, ":High"), (489, 500, ":Very high")]
for (cx, tx, s), col in zip(c_legend, ["#111111", "#1010d8", "#80f6fa", "#8ee82a", "#ffee22", "#e01010"]):
    ov.add_patch(Ellipse((cx, 371), 15, 14.5, fill=False, ec=col, lw=2.6))
    txt(tx, 370, s, 11, ha="left")
c_title_x = [147, 350, 549, 754, 962]
for x, s, y in zip(c_title_x, c_titles, [395, 395, 393, 395, 395]):
    txt(x, y, s, 14)
txt(14, 498, "t-SNE2", 16, rotation=90, family=ARIAL)
txt(548, 627, "t-SNE1", 15.5, family=ARIAL)

# D texts
ov.add_patch(Ellipse((51.6, 649), 13, 14, fill=False, ec="#8be83c", lw=1.3))
txt(62, 649, ":Tregs migrating to skin", 9.4, ha="left")
ov.add_patch(Ellipse((240, 649), 13, 14, fill=False, ec="#e01818", lw=1.3))
txt(250, 649, ":Tregs remaining in skin", 9.4, ha="left")
txt(22, 762, "t-SNE2", 16, rotation=90, family=ARIAL)
txt(347, 875, "t-SNE1", 15.5, family=ARIAL)

# E texts
txt(44, 1065, "t-SNE2", 16, rotation=90, family=ARIAL)
txt(272, 1290, "t-SNE1", 15.5, family=ARIAL)

# F texts
txt(642, 960, "Subsets", 16, rotation=90)
ov.plot([658, 1063], [1191.7, 1191.7], color="black", lw=2.6)
for y, s in zip([1100 + 10.4 + 20.8 * i for i in range(6)], level_names):
    txt(587, y, s, 11, ha="left")
for x, s in zip([680, 700, 721, 738, 759], heat_columns):
    txt(x, 1248, s, 12, rotation=270, va="top")
for y, s in zip([1200, 1213, 1227, 1242], row_names[41:]):
    txt(804, y, s, 9)
for x, y, s in [(926.7, 680, "*"), (926.7, 1079, "*"), (926.7, 1154, "*")]:
    txt(x, y, s, 20)
txt(870, 1293, "% KikGR-Red$^{+}$\ncells within\neach subset", 13, linespacing=0.95)
txt(1003, 1301, "% KikGR-Red$^{+}$\ncells within\nall KikGR-Red$^{+}$\nskin Tregs", 13, linespacing=0.95)

fig.savefig("out.png", dpi=100)
